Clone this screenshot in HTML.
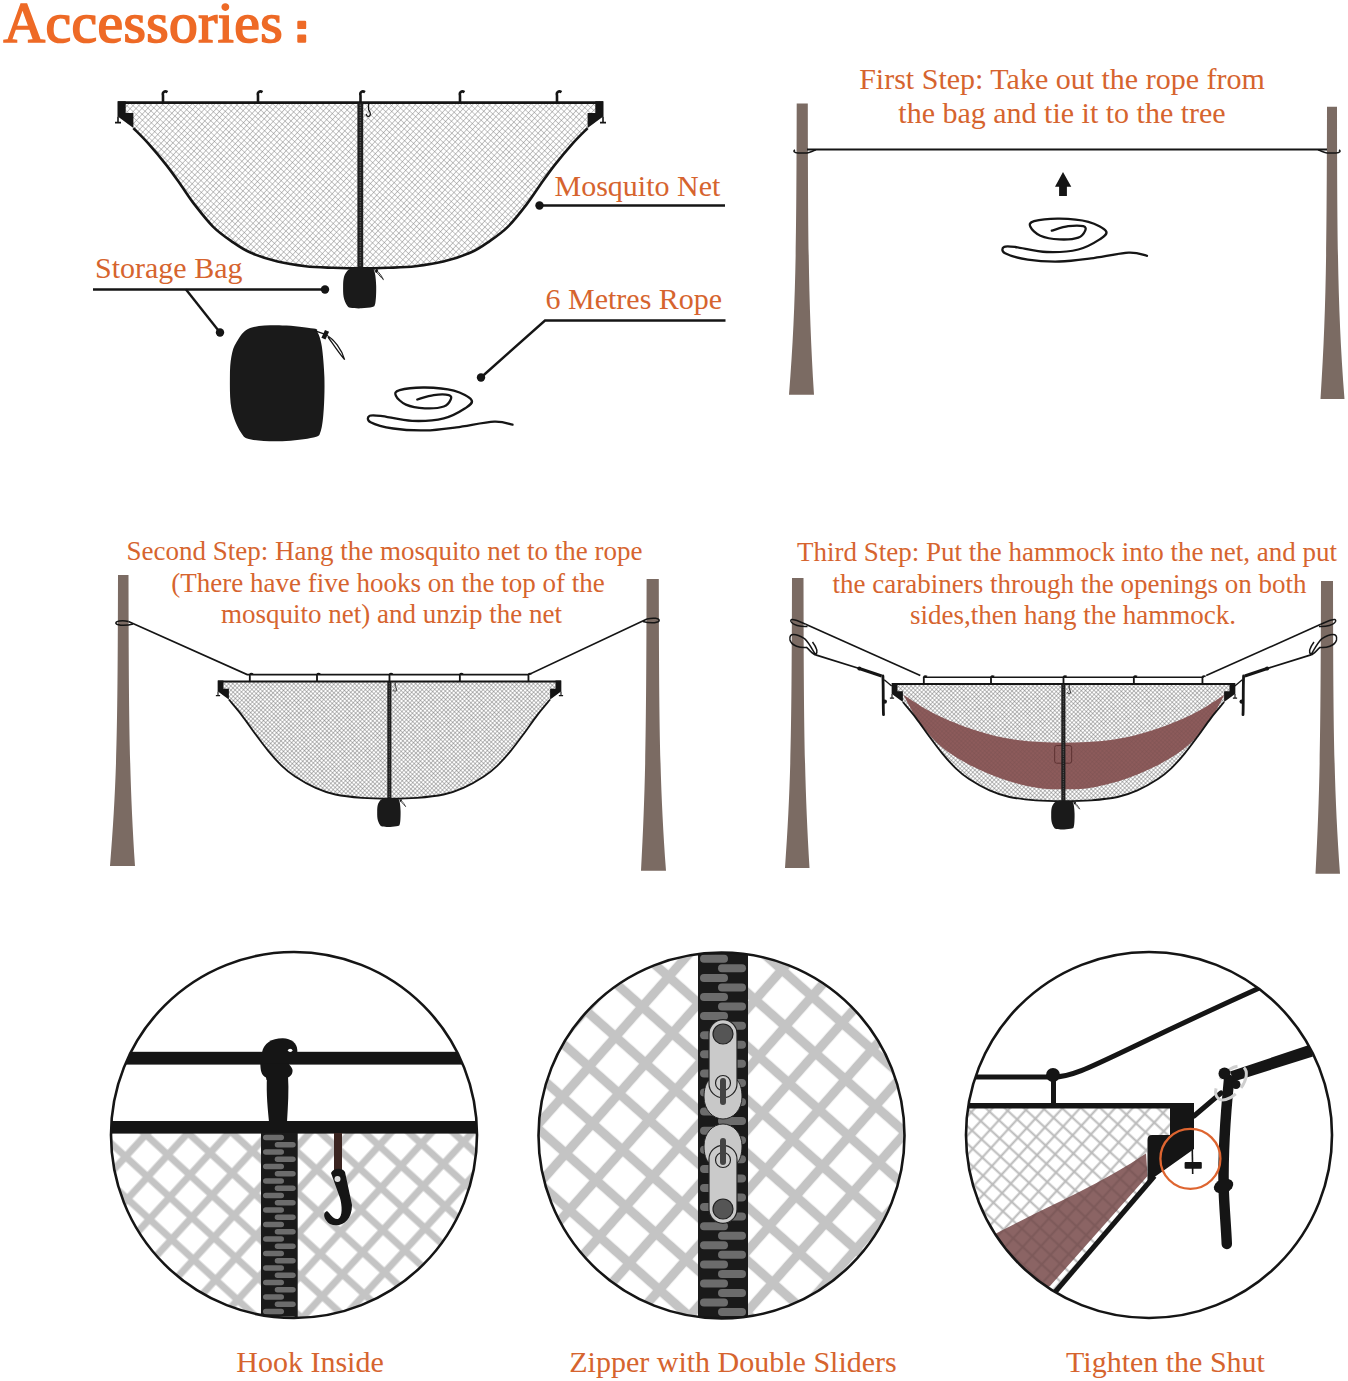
<!DOCTYPE html><html><head><meta charset="utf-8"><style>html,body{margin:0;padding:0;background:#fff;}svg{display:block;}text{font-family:"Liberation Serif",serif;}</style></head><body>
<svg width="1348" height="1381" viewBox="0 0 1348 1381">
<defs>
<pattern id="mesh" width="4.2" height="4.2" patternUnits="userSpaceOnUse" patternTransform="rotate(43)"><rect width="4.2" height="4.2" fill="#fff"/><path d="M0,0 H4.2 M0,0 V4.2" stroke="#858585" stroke-width="0.95"/></pattern>
<pattern id="meshB" width="4.2" height="4.2" patternUnits="userSpaceOnUse" patternTransform="rotate(43)"><rect width="4.2" height="4.2" fill="#fff"/><path d="M0,0 H4.2 M0,0 V4.2" stroke="#6a6a6a" stroke-width="1.25"/></pattern>
<pattern id="meshov" width="4.2" height="4.2" patternUnits="userSpaceOnUse" patternTransform="rotate(43)"><path d="M0,0 H4.2 M0,0 V4.2" stroke="#5a4040" stroke-width="0.95"/></pattern>
<pattern id="m1" width="29.9" height="29.9" patternUnits="userSpaceOnUse" patternTransform="translate(125.6,1156.7) rotate(42.5) translate(-14.95,-14.95)"><rect width="29.9" height="29.9" fill="#fff"/><path d="M0,14.95 H29.9 M14.95,0 V29.9" stroke="#c4c4c4" stroke-width="7.0"/></pattern>
<pattern id="m2" width="40.1" height="40.1" patternUnits="userSpaceOnUse" patternTransform="translate(619,1093.4) rotate(41.5) translate(-20.05,-20.05)"><rect width="40.1" height="40.1" fill="#fff"/><path d="M0,20.05 H40.1 M20.05,0 V40.1" stroke="#c4c4c4" stroke-width="9.2"/></pattern>
<pattern id="m3" width="12.9" height="12.9" patternUnits="userSpaceOnUse" patternTransform="translate(980.7,1121) rotate(42.5) translate(-6.45,-6.45)"><rect width="12.9" height="12.9" fill="#fff"/><path d="M0,6.45 H12.9 M6.45,0 V12.9" stroke="#b9b9b9" stroke-width="2.0"/></pattern>
<pattern id="m3o" width="12.9" height="12.9" patternUnits="userSpaceOnUse" patternTransform="translate(980.7,1121) rotate(42.5) translate(-6.45,-6.45)"><path d="M0,6.45 H12.9 M6.45,0 V12.9" stroke="#6e4e4e" stroke-width="2.0"/></pattern>
</defs>
<text x="3.5" y="42" font-size="57.5" letter-spacing="0.45" fill="#ee6a26" stroke="#ee6a26" stroke-width="1.7">Accessories</text>
<rect x="297.3" y="20.8" width="8.9" height="8.3" rx="1.2" fill="#ee6a26"/><rect x="297.3" y="34.5" width="8.9" height="8.3" rx="1.2" fill="#ee6a26"/>
<g transform="translate(118,102.6)"><path d="M0,0 H485 V13.7 L469.6,25.5  C467.2,28.0 460.7,34.1 455.2,40.3 C449.7,46.5 442.2,55.4 436.6,62.5 C431.0,69.6 426.4,76.4 421.8,82.9 C417.2,89.4 414.1,94.7 408.8,101.5 C403.6,108.3 396.5,117.5 390.3,123.7 C384.1,129.9 377.9,134.2 371.7,138.5 C365.5,142.8 360.9,146.3 353.2,149.7 C345.5,153.1 334.7,156.7 325.4,159.0 C316.1,161.3 306.7,162.6 297.5,163.6 C288.3,164.6 279.2,164.8 270.0,165.2 C260.8,165.5 251.7,165.7 242.5,165.7 C233.3,165.7 224.2,165.5 215.0,165.2 C205.8,164.8 196.7,164.6 187.5,163.6 C178.3,162.6 168.9,161.3 159.6,159.0 C150.3,156.7 139.5,153.1 131.8,149.7 C124.1,146.3 119.5,142.8 113.3,138.5 C107.1,134.2 100.9,129.9 94.7,123.7 C88.5,117.5 81.5,108.3 76.2,101.5 C71.0,94.7 67.8,89.4 63.2,82.9 C58.6,76.4 54.0,69.6 48.4,62.5 C42.8,55.4 35.3,46.5 29.8,40.3 C24.3,34.1 17.8,28.0 15.4,25.5 L0,13.7 Z" fill="url(#mesh)"/><path d="M15.4,25.5 C17.8,28.0 24.3,34.1 29.8,40.3 C35.3,46.5 42.8,55.4 48.4,62.5 C54.0,69.6 58.6,76.4 63.2,82.9 C67.8,89.4 71.0,94.7 76.2,101.5 C81.5,108.3 88.5,117.5 94.7,123.7 C100.9,129.9 107.1,134.2 113.3,138.5 C119.5,142.8 124.1,146.3 131.8,149.7 C139.5,153.1 150.3,156.7 159.6,159.0 C168.9,161.3 178.3,162.6 187.5,163.6 C196.7,164.6 205.8,164.8 215.0,165.2 C224.2,165.5 233.3,165.7 242.5,165.7 C251.7,165.7 260.8,165.5 270.0,165.2 C279.2,164.8 288.3,164.6 297.5,163.6 C306.7,162.6 316.1,161.3 325.4,159.0 C334.7,156.7 345.5,153.1 353.2,149.7 C360.9,146.3 365.5,142.8 371.7,138.5 C377.9,134.2 384.1,129.9 390.3,123.7 C396.5,117.5 403.6,108.3 408.8,101.5 C414.1,94.7 417.2,89.4 421.8,82.9 C426.4,76.4 431.0,69.6 436.6,62.5 C442.2,55.4 449.7,46.5 455.2,40.3 C460.7,34.1 467.2,28.0 469.6,25.5" fill="none" stroke="#151515" stroke-width="2.6"/><line x1="0" y1="0" x2="485" y2="0" stroke="#151515" stroke-width="2.8"/><path d="M-0.5,-1.4 H7.7 V10.4 H15.4 V25.5 L-0.5,13.7 Z" fill="#151515"/><path d="M485.5,-1.4 H477.3 V10.4 H469.6 V25.5 L485.5,13.7 Z" fill="#151515"/><path d="M0,14 V20.5 M-3,20 H3 M485,14 V20.5 M482,20 H488" stroke="#151515" stroke-width="1.6"/><rect x="239.4" y="0" width="5.8" height="166" fill="#1e1e1e"/><line x1="242.3" y1="2" x2="242.3" y2="164" stroke="#555" stroke-width="1.6" stroke-dasharray="1.2 1.3"/><path d="M45,0 V-7 C44,-11 47,-12 49.5,-10.5" fill="none" stroke="#151515" stroke-width="2.6"/><path d="M140,0 V-7 C139,-11 142,-12 144.5,-10.5" fill="none" stroke="#151515" stroke-width="2.6"/><path d="M242.5,0 V-7 C241.5,-11 244.5,-12 247.0,-10.5" fill="none" stroke="#151515" stroke-width="2.6"/><path d="M342,0 V-7 C341,-11 344,-12 346.5,-10.5" fill="none" stroke="#151515" stroke-width="2.6"/><path d="M439,0 V-7 C438,-11 441,-12 443.5,-10.5" fill="none" stroke="#151515" stroke-width="2.6"/><path d="M250.5,1.2 L250.6,7.1 C251.5,8.5 252.6,10 252.4,11.5 C252,13.8 250.5,14.2 249.5,13.6 C248.8,13.2 248.3,12.4 248.3,11.5" fill="none" stroke="#151515" stroke-width="1.3"/><path transform="translate(225.1,165.2) scale(0.35) translate(-229.9,-325.4)" d="M250.1,328.0 C257.7,325.2 271.7,325.3 282.3,325.4 C292.9,325.5 307.6,327.4 313.5,328.5 C319.4,329.6 316.1,329.1 317.5,332.0 C318.9,334.9 320.7,338.6 321.8,346.2 C322.9,353.8 324.1,366.9 324.4,377.3 C324.7,387.7 324.4,399.5 323.8,408.5 C323.2,417.5 322.4,426.5 320.7,431.3 C319.0,436.1 319.9,435.9 313.5,437.5 C307.1,439.1 292.7,440.8 282.3,441.2 C271.9,441.6 258.1,441.1 251.2,439.6 C244.3,438.1 244.1,437.5 240.8,432.3 C237.5,427.1 233.2,417.7 231.4,408.5 C229.6,399.3 229.9,386.0 229.9,377.3 C229.9,368.6 230.3,362.4 231.4,356.5 C232.5,350.6 233.5,346.8 236.6,342.0 C239.7,337.2 242.5,330.8 250.1,328.0 Z" fill="#1a1a1a"/><path d="M255.3,167 L259,168.2 C262,171 264,174 265.4,177 C263,175 261,172 258.5,169.5" stroke="#151515" stroke-width="0.9" fill="none"/><rect x="257.5" y="166.5" width="2.2" height="3.5" fill="#151515" transform="rotate(25 258.6 168.2)"/></g>
<text x="554.5" y="196" font-size="30" font-weight="normal" text-anchor="start" fill="#d6642e">Mosquito Net</text>
<line x1="540" y1="205.5" x2="725" y2="205.5" stroke="#151515" stroke-width="2.4"/><circle cx="539.5" cy="205.5" r="4.2" fill="#151515"/>
<text x="95" y="278" font-size="30" font-weight="normal" text-anchor="start" fill="#d6642e">Storage Bag</text>
<line x1="93" y1="289.5" x2="325" y2="289.5" stroke="#151515" stroke-width="2.4"/><circle cx="325" cy="289.5" r="4.2" fill="#151515"/>
<line x1="186" y1="289.5" x2="220" y2="332.5" stroke="#151515" stroke-width="2.4"/><circle cx="220" cy="332.5" r="4.2" fill="#151515"/>
<text x="545.5" y="309" font-size="30" font-weight="normal" text-anchor="start" fill="#d6642e">6 Metres Rope</text>
<polyline points="725.5,320.5 545,320.5 481,377.5" fill="none" stroke="#151515" stroke-width="2.4"/><circle cx="481" cy="377.5" r="4.2" fill="#151515"/>
<path d="M250.1,328.0 C257.7,325.2 271.7,325.3 282.3,325.4 C292.9,325.5 307.6,327.4 313.5,328.5 C319.4,329.6 316.1,329.1 317.5,332.0 C318.9,334.9 320.7,338.6 321.8,346.2 C322.9,353.8 324.1,366.9 324.4,377.3 C324.7,387.7 324.4,399.5 323.8,408.5 C323.2,417.5 322.4,426.5 320.7,431.3 C319.0,436.1 319.9,435.9 313.5,437.5 C307.1,439.1 292.7,440.8 282.3,441.2 C271.9,441.6 258.1,441.1 251.2,439.6 C244.3,438.1 244.1,437.5 240.8,432.3 C237.5,427.1 233.2,417.7 231.4,408.5 C229.6,399.3 229.9,386.0 229.9,377.3 C229.9,368.6 230.3,362.4 231.4,356.5 C232.5,350.6 233.5,346.8 236.6,342.0 C239.7,337.2 242.5,330.8 250.1,328.0 Z" fill="#1a1a1a"/>
<path d="M314.5,330.6 L326,334.7 C334,339 342,350 344.6,359.7 C338,352 333,344 328,337" fill="none" stroke="#151515" stroke-width="1.3"/><rect x="323" y="330.5" width="4.5" height="8.5" fill="#151515" transform="rotate(25 325.3 334.7)"/>
<path transform="translate(367,384.4)" d="M50.3,15.1 C53.0,14.4 61.5,11.4 66.7,10.7 C72.0,10.0 79.0,10.0 81.8,10.7 C84.6,11.4 84.5,13.2 83.7,15.1 C82.9,17.0 81.1,20.6 76.8,22.1 C72.5,23.6 64.2,24.2 57.9,23.9 C51.6,23.6 43.7,22.3 38.9,20.2 C34.1,18.1 29.9,13.7 28.9,11.3 C27.8,8.9 27.8,7.1 32.6,5.7 C37.4,4.3 48.8,3.0 57.9,3.1 C67.0,3.2 79.1,4.2 86.9,6.3 C94.7,8.4 102.6,12.8 104.5,15.7 C106.4,18.6 102.8,20.8 98.2,23.9 C93.6,26.9 85.6,31.9 76.8,34.0 C68.0,36.1 55.7,36.9 45.2,36.5 C34.7,36.1 20.8,32.3 13.7,31.5 C6.6,30.7 4.1,30.4 2.4,31.5 C0.7,32.5 -0.4,35.7 3.6,37.8 C7.6,39.9 17.2,42.7 26.3,44.1 C35.4,45.5 47.4,46.2 57.9,46.0 C68.4,45.8 77.9,44.4 89.4,42.9 C101.0,41.4 117.9,37.6 127.2,37.2 C136.6,36.8 142.4,39.8 145.5,40.3" fill="none" stroke="#151515" stroke-width="2.3" stroke-linecap="round"/>
<text x="1062" y="88.5" font-size="30" font-weight="normal" text-anchor="middle" fill="#d6642e">First Step: Take out the rope from</text>
<text x="1062" y="123" font-size="30" font-weight="normal" text-anchor="middle" fill="#d6642e">the bag and tie it to the tree</text>
<path d="M796.7,103.4 L807.8,103.4 C808.0999999999999,249.1 808.5999999999999,307.38 814,394.8 L789,394.8 C795.9000000000001,307.38 796.4000000000001,249.1 796.7,103.4 Z" fill="#7b6b63"/>
<path d="M1327,106.7 L1337,106.7 C1337.3,252.85000000000002 1337.8,311.31 1344.5,399 L1320.5,399 C1326.2,311.31 1326.7,252.85000000000002 1327,106.7 Z" fill="#7b6b63"/>
<line x1="807" y1="149.5" x2="1327" y2="149.5" stroke="#151515" stroke-width="1.8"/>
<path d="M816,149.8 C812,151 810,152.8 807,153 L798,153 C794,152.5 793,151 795,150 M1318,149.8 C1322,151 1324,152.8 1327,153 L1336,153 C1340,152.5 1341,151 1339,150" fill="none" stroke="#151515" stroke-width="1.5"/>
<path d="M1063,172 L1071.3,186.7 H1066.9 V196 H1059.1 V186.7 H1055 Z" fill="#151515"/>
<path transform="translate(1001.5,215.5)" d="M50.3,15.1 C53.0,14.4 61.5,11.4 66.7,10.7 C72.0,10.0 79.0,10.0 81.8,10.7 C84.6,11.4 84.5,13.2 83.7,15.1 C82.9,17.0 81.1,20.6 76.8,22.1 C72.5,23.6 64.2,24.2 57.9,23.9 C51.6,23.6 43.7,22.3 38.9,20.2 C34.1,18.1 29.9,13.7 28.9,11.3 C27.8,8.9 27.8,7.1 32.6,5.7 C37.4,4.3 48.8,3.0 57.9,3.1 C67.0,3.2 79.1,4.2 86.9,6.3 C94.7,8.4 102.6,12.8 104.5,15.7 C106.4,18.6 102.8,20.8 98.2,23.9 C93.6,26.9 85.6,31.9 76.8,34.0 C68.0,36.1 55.7,36.9 45.2,36.5 C34.7,36.1 20.8,32.3 13.7,31.5 C6.6,30.7 4.1,30.4 2.4,31.5 C0.7,32.5 -0.4,35.7 3.6,37.8 C7.6,39.9 17.2,42.7 26.3,44.1 C35.4,45.5 47.4,46.2 57.9,46.0 C68.4,45.8 77.9,44.4 89.4,42.9 C101.0,41.4 117.9,37.6 127.2,37.2 C136.6,36.8 142.4,39.8 145.5,40.3" fill="none" stroke="#151515" stroke-width="2.3" stroke-linecap="round"/>
<text x="384.5" y="560" font-size="27" font-weight="normal" text-anchor="middle" fill="#d6642e">Second Step: Hang the mosquito net to the rope</text>
<text x="388" y="591.5" font-size="27" font-weight="normal" text-anchor="middle" fill="#d6642e">(There have five hooks on the top of the</text>
<text x="391.5" y="622.5" font-size="27" font-weight="normal" text-anchor="middle" fill="#d6642e">mosquito net) and unzip the net</text>
<path d="M118,575 L128.5,575 C128.8,720.5 129.3,778.7 135,866 L110,866 C117.2,778.7 117.7,720.5 118,575 Z" fill="#7b6b63"/>
<path d="M646.6,579 L658.8,579 C659.0999999999999,724.85 659.5999999999999,783.19 666,870.7 L641,870.7 C645.8000000000001,783.19 646.3000000000001,724.85 646.6,579 Z" fill="#7b6b63"/>
<polyline points="128.5,621.4 247.2,674.6 528.5,674.6 647,619" fill="none" stroke="#151515" stroke-width="1.6"/>
<path d="M128.5,621.4 C122,620 115,621 116,623.5 C118,626 128,625.5 133,624 M647,619 C653,617.5 660,618 659,621 C657,623.5 648,623 643,621.5" fill="none" stroke="#151515" stroke-width="1.5"/>
<g transform="translate(218,681.5) scale(0.7072)"><path d="M0,0 H485 V13.7 L469.6,25.5  C466.6,29.2 457.7,39.5 451.5,47.5 C445.3,55.5 438.8,65.3 432.5,73.8 C426.2,82.3 420.0,90.8 413.7,98.4 C407.4,106.0 401.1,113.2 394.8,119.2 C388.5,125.2 384.0,129.1 376.0,134.3 C368.0,139.5 356.5,146.2 347.0,150.5 C337.5,154.8 329.9,157.5 319.0,159.8 C308.1,162.1 294.2,163.5 281.5,164.5 C268.8,165.5 255.5,165.6 242.5,165.6 C229.5,165.6 216.2,165.5 203.5,164.5 C190.8,163.5 176.9,162.1 166.0,159.8 C155.1,157.5 147.5,154.8 138.0,150.5 C128.5,146.2 117.0,139.5 109.0,134.3 C101.0,129.1 96.5,125.2 90.2,119.2 C83.9,113.2 77.6,106.0 71.3,98.4 C65.0,90.8 58.8,82.3 52.5,73.8 C46.2,65.3 39.7,55.5 33.5,47.5 C27.3,39.5 18.4,29.2 15.4,25.5 L0,13.7 Z" fill="url(#meshB)"/><path d="M15.4,25.5 C18.4,29.2 27.3,39.5 33.5,47.5 C39.7,55.5 46.2,65.3 52.5,73.8 C58.8,82.3 65.0,90.8 71.3,98.4 C77.6,106.0 83.9,113.2 90.2,119.2 C96.5,125.2 101.0,129.1 109.0,134.3 C117.0,139.5 128.5,146.2 138.0,150.5 C147.5,154.8 155.1,157.5 166.0,159.8 C176.9,162.1 190.8,163.5 203.5,164.5 C216.2,165.5 229.5,165.6 242.5,165.6 C255.5,165.6 268.8,165.5 281.5,164.5 C294.2,163.5 308.1,162.1 319.0,159.8 C329.9,157.5 337.5,154.8 347.0,150.5 C356.5,146.2 368.0,139.5 376.0,134.3 C384.0,129.1 388.5,125.2 394.8,119.2 C401.1,113.2 407.4,106.0 413.7,98.4 C420.0,90.8 426.2,82.3 432.5,73.8 C438.8,65.3 445.3,55.5 451.5,47.5 C457.7,39.5 466.6,29.2 469.6,25.5" fill="none" stroke="#151515" stroke-width="2.6"/><line x1="0" y1="0" x2="485" y2="0" stroke="#151515" stroke-width="2.8"/><path d="M-0.5,-1.4 H7.7 V10.4 H15.4 V25.5 L-0.5,13.7 Z" fill="#151515"/><path d="M485.5,-1.4 H477.3 V10.4 H469.6 V25.5 L485.5,13.7 Z" fill="#151515"/><path d="M0,14 V20.5 M-3,20 H3 M485,14 V20.5 M482,20 H488" stroke="#151515" stroke-width="1.6"/><rect x="239.4" y="0" width="5.8" height="166" fill="#1e1e1e"/><line x1="242.3" y1="2" x2="242.3" y2="164" stroke="#555" stroke-width="1.6" stroke-dasharray="1.2 1.3"/><path d="M45,0 V-7 C44,-11 47,-12 49.5,-10.5" fill="none" stroke="#151515" stroke-width="2.6"/><path d="M140,0 V-7 C139,-11 142,-12 144.5,-10.5" fill="none" stroke="#151515" stroke-width="2.6"/><path d="M242.5,0 V-7 C241.5,-11 244.5,-12 247.0,-10.5" fill="none" stroke="#151515" stroke-width="2.6"/><path d="M342,0 V-7 C341,-11 344,-12 346.5,-10.5" fill="none" stroke="#151515" stroke-width="2.6"/><path d="M439,0 V-7 C438,-11 441,-12 443.5,-10.5" fill="none" stroke="#151515" stroke-width="2.6"/><path d="M250.5,1.2 L250.6,7.1 C251.5,8.5 252.6,10 252.4,11.5 C252,13.8 250.5,14.2 249.5,13.6 C248.8,13.2 248.3,12.4 248.3,11.5" fill="none" stroke="#151515" stroke-width="1.3"/><path transform="translate(225.1,165.2) scale(0.35) translate(-229.9,-325.4)" d="M250.1,328.0 C257.7,325.2 271.7,325.3 282.3,325.4 C292.9,325.5 307.6,327.4 313.5,328.5 C319.4,329.6 316.1,329.1 317.5,332.0 C318.9,334.9 320.7,338.6 321.8,346.2 C322.9,353.8 324.1,366.9 324.4,377.3 C324.7,387.7 324.4,399.5 323.8,408.5 C323.2,417.5 322.4,426.5 320.7,431.3 C319.0,436.1 319.9,435.9 313.5,437.5 C307.1,439.1 292.7,440.8 282.3,441.2 C271.9,441.6 258.1,441.1 251.2,439.6 C244.3,438.1 244.1,437.5 240.8,432.3 C237.5,427.1 233.2,417.7 231.4,408.5 C229.6,399.3 229.9,386.0 229.9,377.3 C229.9,368.6 230.3,362.4 231.4,356.5 C232.5,350.6 233.5,346.8 236.6,342.0 C239.7,337.2 242.5,330.8 250.1,328.0 Z" fill="#1a1a1a"/><path d="M255.3,167 L259,168.2 C262,171 264,174 265.4,177 C263,175 261,172 258.5,169.5" stroke="#151515" stroke-width="0.9" fill="none"/><rect x="257.5" y="166.5" width="2.2" height="3.5" fill="#151515" transform="rotate(25 258.6 168.2)"/></g>
<text x="1067" y="561" font-size="27" font-weight="normal" text-anchor="middle" fill="#d6642e">Third Step: Put the hammock into the net, and put</text>
<text x="1069.5" y="593" font-size="27" font-weight="normal" text-anchor="middle" fill="#d6642e">the carabiners through the openings on both</text>
<text x="1073" y="624" font-size="27" font-weight="normal" text-anchor="middle" fill="#d6642e">sides,then hang the hammock.</text>
<path d="M792,578 L803.5,578 C803.8,723.0 804.3,781.0 809.5,868 L785,868 C791.2,781.0 791.7,723.0 792,578 Z" fill="#7b6b63"/>
<path d="M1321,581 L1333,581 C1333.3,727.4 1333.8,785.9599999999999 1340,873.8 L1315.5,873.8 C1320.2,785.9599999999999 1320.7,727.4 1321,581 Z" fill="#7b6b63"/>
<g transform="translate(892,684) scale(0.7072)"><path d="M0,0 H485 V13.7 L469.6,25.5  C466.6,29.2 457.7,39.5 451.5,47.5 C445.3,55.5 438.8,65.3 432.5,73.8 C426.2,82.3 420.0,90.8 413.7,98.4 C407.4,106.0 401.1,113.2 394.8,119.2 C388.5,125.2 384.0,129.1 376.0,134.3 C368.0,139.5 356.5,146.2 347.0,150.5 C337.5,154.8 329.9,157.5 319.0,159.8 C308.1,162.1 294.2,163.5 281.5,164.5 C268.8,165.5 255.5,165.6 242.5,165.6 C229.5,165.6 216.2,165.5 203.5,164.5 C190.8,163.5 176.9,162.1 166.0,159.8 C155.1,157.5 147.5,154.8 138.0,150.5 C128.5,146.2 117.0,139.5 109.0,134.3 C101.0,129.1 96.5,125.2 90.2,119.2 C83.9,113.2 77.6,106.0 71.3,98.4 C65.0,90.8 58.8,82.3 52.5,73.8 C46.2,65.3 39.7,55.5 33.5,47.5 C27.3,39.5 18.4,29.2 15.4,25.5 L0,13.7 Z" fill="url(#meshB)"/><clipPath id="netclip"><path d="M0,0 H485 V13.7 L469.6,25.5  C466.6,29.2 457.7,39.5 451.5,47.5 C445.3,55.5 438.8,65.3 432.5,73.8 C426.2,82.3 420.0,90.8 413.7,98.4 C407.4,106.0 401.1,113.2 394.8,119.2 C388.5,125.2 384.0,129.1 376.0,134.3 C368.0,139.5 356.5,146.2 347.0,150.5 C337.5,154.8 329.9,157.5 319.0,159.8 C308.1,162.1 294.2,163.5 281.5,164.5 C268.8,165.5 255.5,165.6 242.5,165.6 C229.5,165.6 216.2,165.5 203.5,164.5 C190.8,163.5 176.9,162.1 166.0,159.8 C155.1,157.5 147.5,154.8 138.0,150.5 C128.5,146.2 117.0,139.5 109.0,134.3 C101.0,129.1 96.5,125.2 90.2,119.2 C83.9,113.2 77.6,106.0 71.3,98.4 C65.0,90.8 58.8,82.3 52.5,73.8 C46.2,65.3 39.7,55.5 33.5,47.5 C27.3,39.5 18.4,29.2 15.4,25.5 L0,13.7 Z"/></clipPath><g clip-path="url(#netclip)"><path d="M16.0,15.1 C23.4,19.6 43.6,33.9 60.7,42.3 C77.8,50.7 99.4,59.4 118.8,65.6 C138.2,71.8 156.3,76.3 177.0,79.2 C197.7,82.1 221.1,83.0 243.1,83.0 C265.1,83.0 288.5,82.1 309.2,79.2 C329.9,76.3 348.0,71.8 367.4,65.6 C386.8,59.4 408.4,50.7 425.5,42.3 C442.6,33.9 462.8,19.6 470.2,15.1 C466.0,22.2 455.6,44.2 444.9,57.8 C434.2,71.4 422.4,84.9 406.2,96.6 C390.0,108.2 367.3,119.6 347.9,127.7 C328.5,135.8 307.2,141.6 289.7,145.2 C272.2,148.8 258.6,149.0 243.1,149.0 C227.6,149.0 214.0,148.8 196.5,145.2 C179.0,141.6 157.7,135.8 138.3,127.7 C118.9,119.6 96.2,108.2 80.0,96.6 C63.8,84.9 52.0,71.4 41.3,57.8 C30.6,44.2 20.2,22.2 16.0,15.1 Z" fill="#8d5b5b"/><path d="M16.0,15.1 C23.4,19.6 43.6,33.9 60.7,42.3 C77.8,50.7 99.4,59.4 118.8,65.6 C138.2,71.8 156.3,76.3 177.0,79.2 C197.7,82.1 221.1,83.0 243.1,83.0 C265.1,83.0 288.5,82.1 309.2,79.2 C329.9,76.3 348.0,71.8 367.4,65.6 C386.8,59.4 408.4,50.7 425.5,42.3 C442.6,33.9 462.8,19.6 470.2,15.1 C466.0,22.2 455.6,44.2 444.9,57.8 C434.2,71.4 422.4,84.9 406.2,96.6 C390.0,108.2 367.3,119.6 347.9,127.7 C328.5,135.8 307.2,141.6 289.7,145.2 C272.2,148.8 258.6,149.0 243.1,149.0 C227.6,149.0 214.0,148.8 196.5,145.2 C179.0,141.6 157.7,135.8 138.3,127.7 C118.9,119.6 96.2,108.2 80.0,96.6 C63.8,84.9 52.0,71.4 41.3,57.8 C30.6,44.2 20.2,22.2 16.0,15.1 Z" fill="url(#meshov)" opacity="0.45"/><rect x="230" y="87" width="24" height="25" rx="3" fill="none" stroke="#5a2f2f" stroke-width="1.3"/></g><path d="M15.4,25.5 C18.4,29.2 27.3,39.5 33.5,47.5 C39.7,55.5 46.2,65.3 52.5,73.8 C58.8,82.3 65.0,90.8 71.3,98.4 C77.6,106.0 83.9,113.2 90.2,119.2 C96.5,125.2 101.0,129.1 109.0,134.3 C117.0,139.5 128.5,146.2 138.0,150.5 C147.5,154.8 155.1,157.5 166.0,159.8 C176.9,162.1 190.8,163.5 203.5,164.5 C216.2,165.5 229.5,165.6 242.5,165.6 C255.5,165.6 268.8,165.5 281.5,164.5 C294.2,163.5 308.1,162.1 319.0,159.8 C329.9,157.5 337.5,154.8 347.0,150.5 C356.5,146.2 368.0,139.5 376.0,134.3 C384.0,129.1 388.5,125.2 394.8,119.2 C401.1,113.2 407.4,106.0 413.7,98.4 C420.0,90.8 426.2,82.3 432.5,73.8 C438.8,65.3 445.3,55.5 451.5,47.5 C457.7,39.5 466.6,29.2 469.6,25.5" fill="none" stroke="#151515" stroke-width="2.6"/><line x1="0" y1="0" x2="485" y2="0" stroke="#151515" stroke-width="2.8"/><path d="M-0.5,-1.4 H7.7 V10.4 H15.4 V25.5 L-0.5,13.7 Z" fill="#151515"/><path d="M485.5,-1.4 H477.3 V10.4 H469.6 V25.5 L485.5,13.7 Z" fill="#151515"/><path d="M0,14 V20.5 M-3,20 H3 M485,14 V20.5 M482,20 H488" stroke="#151515" stroke-width="1.6"/><rect x="239.4" y="0" width="5.8" height="166" fill="#1e1e1e"/><line x1="242.3" y1="2" x2="242.3" y2="164" stroke="#555" stroke-width="1.6" stroke-dasharray="1.2 1.3"/><path d="M45,0 V-7 C44,-11 47,-12 49.5,-10.5" fill="none" stroke="#151515" stroke-width="2.6"/><path d="M140,0 V-7 C139,-11 142,-12 144.5,-10.5" fill="none" stroke="#151515" stroke-width="2.6"/><path d="M242.5,0 V-7 C241.5,-11 244.5,-12 247.0,-10.5" fill="none" stroke="#151515" stroke-width="2.6"/><path d="M342,0 V-7 C341,-11 344,-12 346.5,-10.5" fill="none" stroke="#151515" stroke-width="2.6"/><path d="M439,0 V-7 C438,-11 441,-12 443.5,-10.5" fill="none" stroke="#151515" stroke-width="2.6"/><path d="M250.5,1.2 L250.6,7.1 C251.5,8.5 252.6,10 252.4,11.5 C252,13.8 250.5,14.2 249.5,13.6 C248.8,13.2 248.3,12.4 248.3,11.5" fill="none" stroke="#151515" stroke-width="1.3"/><path transform="translate(225.1,165.2) scale(0.35) translate(-229.9,-325.4)" d="M250.1,328.0 C257.7,325.2 271.7,325.3 282.3,325.4 C292.9,325.5 307.6,327.4 313.5,328.5 C319.4,329.6 316.1,329.1 317.5,332.0 C318.9,334.9 320.7,338.6 321.8,346.2 C322.9,353.8 324.1,366.9 324.4,377.3 C324.7,387.7 324.4,399.5 323.8,408.5 C323.2,417.5 322.4,426.5 320.7,431.3 C319.0,436.1 319.9,435.9 313.5,437.5 C307.1,439.1 292.7,440.8 282.3,441.2 C271.9,441.6 258.1,441.1 251.2,439.6 C244.3,438.1 244.1,437.5 240.8,432.3 C237.5,427.1 233.2,417.7 231.4,408.5 C229.6,399.3 229.9,386.0 229.9,377.3 C229.9,368.6 230.3,362.4 231.4,356.5 C232.5,350.6 233.5,346.8 236.6,342.0 C239.7,337.2 242.5,330.8 250.1,328.0 Z" fill="#1a1a1a"/><path d="M255.3,167 L259,168.2 C262,171 264,174 265.4,177 C263,175 261,172 258.5,169.5" stroke="#151515" stroke-width="0.9" fill="none"/><rect x="257.5" y="166.5" width="2.2" height="3.5" fill="#151515" transform="rotate(25 258.6 168.2)"/></g>
<line x1="924" y1="677.3" x2="1203.7" y2="677.3" stroke="#151515" stroke-width="1.6"/>
<path d="M1320.8,624.3 L1206.2,675.6" fill="none" stroke="#151515" stroke-width="1.6"/><path d="M1320.8,624.3 C1328,621 1337,617 1335.5,621.5 C1334,625 1326,627 1319,626.5" fill="none" stroke="#151515" stroke-width="1.5"/><path d="M1310.9,654.8 C1315,648 1318,642 1322,638.6 C1330,634 1338,632 1336.5,640 C1335,646 1326,648 1320,647.4 C1316,651 1313,655 1310.9,654.8 C1308,652 1311,646 1314,642" fill="none" stroke="#151515" stroke-width="1.5"/><path d="M1310.9,654.8 L1267.2,668.5" stroke="#151515" stroke-width="1.8"/><path d="M1267.2,668.5 L1244.8,676" stroke="#151515" stroke-width="3.2"/><circle cx="1267.2" cy="668.5" r="2" fill="#151515"/><path d="M1243.6,676 C1243,690 1243.5,705 1243,714.7" fill="none" stroke="#151515" stroke-width="2.8" stroke-linecap="round"/><circle cx="1241.7" cy="701.6" r="2.2" fill="#151515"/><path d="M1234.8,686 L1242.3,679.8" stroke="#151515" stroke-width="1.4"/>
<g transform="translate(2126.5,0) scale(-1,1)"><path d="M1320.8,624.3 L1206.2,675.6" fill="none" stroke="#151515" stroke-width="1.6"/><path d="M1320.8,624.3 C1328,621 1337,617 1335.5,621.5 C1334,625 1326,627 1319,626.5" fill="none" stroke="#151515" stroke-width="1.5"/><path d="M1310.9,654.8 C1315,648 1318,642 1322,638.6 C1330,634 1338,632 1336.5,640 C1335,646 1326,648 1320,647.4 C1316,651 1313,655 1310.9,654.8 C1308,652 1311,646 1314,642" fill="none" stroke="#151515" stroke-width="1.5"/><path d="M1310.9,654.8 L1267.2,668.5" stroke="#151515" stroke-width="1.8"/><path d="M1267.2,668.5 L1244.8,676" stroke="#151515" stroke-width="3.2"/><circle cx="1267.2" cy="668.5" r="2" fill="#151515"/><path d="M1243.6,676 C1243,690 1243.5,705 1243,714.7" fill="none" stroke="#151515" stroke-width="2.8" stroke-linecap="round"/><circle cx="1241.7" cy="701.6" r="2.2" fill="#151515"/><path d="M1234.8,686 L1242.3,679.8" stroke="#151515" stroke-width="1.4"/></g>
<clipPath id="c1"><circle cx="294" cy="1135" r="183"/></clipPath><g clip-path="url(#c1)">
<rect x="100" y="1133" width="400" height="200" fill="url(#m1)"/>
<rect x="100" y="1051.8" width="400" height="12.8" fill="#151515"/>
<rect x="100" y="1121" width="400" height="12.6" fill="#151515"/>
<rect x="261" y="1133" width="36.7" height="197" fill="#1a1a1a"/>
<rect x="263" y="1134.8" width="21" height="5.5" rx="2.75" fill="#6c6c6c"/>
<rect x="274.7" y="1142.0" width="21" height="5.5" rx="2.75" fill="#6c6c6c"/>
<rect x="263" y="1149.2" width="21" height="5.5" rx="2.75" fill="#6c6c6c"/>
<rect x="274.7" y="1156.5" width="21" height="5.5" rx="2.75" fill="#6c6c6c"/>
<rect x="263" y="1163.8" width="21" height="5.5" rx="2.75" fill="#6c6c6c"/>
<rect x="274.7" y="1171.0" width="21" height="5.5" rx="2.75" fill="#6c6c6c"/>
<rect x="263" y="1178.2" width="21" height="5.5" rx="2.75" fill="#6c6c6c"/>
<rect x="274.7" y="1185.5" width="21" height="5.5" rx="2.75" fill="#6c6c6c"/>
<rect x="263" y="1192.8" width="21" height="5.5" rx="2.75" fill="#6c6c6c"/>
<rect x="274.7" y="1200.0" width="21" height="5.5" rx="2.75" fill="#6c6c6c"/>
<rect x="263" y="1207.2" width="21" height="5.5" rx="2.75" fill="#6c6c6c"/>
<rect x="274.7" y="1214.5" width="21" height="5.5" rx="2.75" fill="#6c6c6c"/>
<rect x="263" y="1221.8" width="21" height="5.5" rx="2.75" fill="#6c6c6c"/>
<rect x="274.7" y="1229.0" width="21" height="5.5" rx="2.75" fill="#6c6c6c"/>
<rect x="263" y="1236.2" width="21" height="5.5" rx="2.75" fill="#6c6c6c"/>
<rect x="274.7" y="1243.5" width="21" height="5.5" rx="2.75" fill="#6c6c6c"/>
<rect x="263" y="1250.8" width="21" height="5.5" rx="2.75" fill="#6c6c6c"/>
<rect x="274.7" y="1258.0" width="21" height="5.5" rx="2.75" fill="#6c6c6c"/>
<rect x="263" y="1265.2" width="21" height="5.5" rx="2.75" fill="#6c6c6c"/>
<rect x="274.7" y="1272.5" width="21" height="5.5" rx="2.75" fill="#6c6c6c"/>
<rect x="263" y="1279.8" width="21" height="5.5" rx="2.75" fill="#6c6c6c"/>
<rect x="274.7" y="1287.0" width="21" height="5.5" rx="2.75" fill="#6c6c6c"/>
<rect x="263" y="1294.2" width="21" height="5.5" rx="2.75" fill="#6c6c6c"/>
<rect x="274.7" y="1301.5" width="21" height="5.5" rx="2.75" fill="#6c6c6c"/>
<rect x="263" y="1308.8" width="21" height="5.5" rx="2.75" fill="#6c6c6c"/>
<rect x="274.7" y="1316.0" width="21" height="5.5" rx="2.75" fill="#6c6c6c"/>
<rect x="263" y="1323.2" width="21" height="5.5" rx="2.75" fill="#6c6c6c"/>
<rect x="274.7" y="1330.5" width="21" height="5.5" rx="2.75" fill="#6c6c6c"/>
<rect x="263" y="1337.8" width="21" height="5.5" rx="2.75" fill="#6c6c6c"/>
<rect x="274.7" y="1345.0" width="21" height="5.5" rx="2.75" fill="#6c6c6c"/>
<path d="M267,1076 C266,1095 268,1110 269,1122 L287,1122 C288,1105 289,1090 288,1076 Z" fill="#151515"/>
<path d="M262,1052.5 C263.5,1043 272,1038 283,1038.2 C291,1038.4 297,1043 297.3,1050 L297.3,1053 L262,1053 Z" fill="#151515"/><ellipse cx="290.2" cy="1050.3" rx="2.2" ry="1.6" fill="#fff"/>
<path d="M260.3,1063.5 C260.5,1070 261,1075 266,1077.5 L266.5,1080 L287,1080 L288,1077.5 C292,1076 293.5,1071 292,1068.5 C291,1066.5 289.5,1065 288.5,1063.5 Z" fill="#151515"/>
<rect x="334" y="1133" width="8" height="47" fill="#3a2420"/>
<path d="M331,1173 C333,1168 342,1167 345,1172 L352,1205 C352,1222 340,1228 330,1224 C324,1220 322,1213 327,1211 C330,1213 333,1220 338,1219 C343,1217 342,1205 340,1198 Z" fill="#151515"/>
<circle cx="337.5" cy="1179" r="3" fill="#ddd"/>
</g><circle cx="294" cy="1135" r="183" fill="none" stroke="#151515" stroke-width="2.6"/>
<clipPath id="c2"><circle cx="721.5" cy="1135.5" r="183"/></clipPath><g clip-path="url(#c2)">
<rect x="530" y="940" width="400" height="400" fill="url(#m2)"/>
<rect x="698" y="945" width="50" height="385" fill="#1a1a1a"/>
<rect x="700" y="954.8" width="28" height="8" rx="4.0" fill="#6c6c6c"/>
<rect x="718" y="964.3" width="28" height="8" rx="4.0" fill="#6c6c6c"/>
<rect x="700" y="973.9" width="28" height="8" rx="4.0" fill="#6c6c6c"/>
<rect x="718" y="983.4" width="28" height="8" rx="4.0" fill="#6c6c6c"/>
<rect x="700" y="993.0" width="28" height="8" rx="4.0" fill="#6c6c6c"/>
<rect x="718" y="1002.5" width="28" height="8" rx="4.0" fill="#6c6c6c"/>
<rect x="700" y="1012.1" width="28" height="8" rx="4.0" fill="#6c6c6c"/>
<rect x="718" y="1021.7" width="28" height="8" rx="4.0" fill="#6c6c6c"/>
<rect x="700" y="1031.2" width="28" height="8" rx="4.0" fill="#6c6c6c"/>
<rect x="718" y="1040.8" width="28" height="8" rx="4.0" fill="#6c6c6c"/>
<rect x="700" y="1050.3" width="28" height="8" rx="4.0" fill="#6c6c6c"/>
<rect x="718" y="1059.8" width="28" height="8" rx="4.0" fill="#6c6c6c"/>
<rect x="700" y="1069.4" width="28" height="8" rx="4.0" fill="#6c6c6c"/>
<rect x="718" y="1078.9" width="28" height="8" rx="4.0" fill="#6c6c6c"/>
<rect x="700" y="1088.5" width="28" height="8" rx="4.0" fill="#6c6c6c"/>
<rect x="718" y="1098.0" width="28" height="8" rx="4.0" fill="#6c6c6c"/>
<rect x="700" y="1107.6" width="28" height="8" rx="4.0" fill="#6c6c6c"/>
<rect x="718" y="1117.1" width="28" height="8" rx="4.0" fill="#6c6c6c"/>
<rect x="700" y="1126.7" width="28" height="8" rx="4.0" fill="#6c6c6c"/>
<rect x="718" y="1136.2" width="28" height="8" rx="4.0" fill="#6c6c6c"/>
<rect x="700" y="1145.8" width="28" height="8" rx="4.0" fill="#6c6c6c"/>
<rect x="718" y="1155.3" width="28" height="8" rx="4.0" fill="#6c6c6c"/>
<rect x="700" y="1164.9" width="28" height="8" rx="4.0" fill="#6c6c6c"/>
<rect x="718" y="1174.4" width="28" height="8" rx="4.0" fill="#6c6c6c"/>
<rect x="700" y="1184.0" width="28" height="8" rx="4.0" fill="#6c6c6c"/>
<rect x="718" y="1193.5" width="28" height="8" rx="4.0" fill="#6c6c6c"/>
<rect x="700" y="1203.1" width="28" height="8" rx="4.0" fill="#6c6c6c"/>
<rect x="718" y="1212.6" width="28" height="8" rx="4.0" fill="#6c6c6c"/>
<rect x="700" y="1222.2" width="28" height="8" rx="4.0" fill="#6c6c6c"/>
<rect x="718" y="1231.7" width="28" height="8" rx="4.0" fill="#6c6c6c"/>
<rect x="700" y="1241.3" width="28" height="8" rx="4.0" fill="#6c6c6c"/>
<rect x="718" y="1250.8" width="28" height="8" rx="4.0" fill="#6c6c6c"/>
<rect x="700" y="1260.4" width="28" height="8" rx="4.0" fill="#6c6c6c"/>
<rect x="718" y="1269.9" width="28" height="8" rx="4.0" fill="#6c6c6c"/>
<rect x="700" y="1279.5" width="28" height="8" rx="4.0" fill="#6c6c6c"/>
<rect x="718" y="1289.0" width="28" height="8" rx="4.0" fill="#6c6c6c"/>
<rect x="700" y="1298.6" width="28" height="8" rx="4.0" fill="#6c6c6c"/>
<rect x="718" y="1308.1" width="28" height="8" rx="4.0" fill="#6c6c6c"/>
<rect x="700" y="1317.7" width="28" height="8" rx="4.0" fill="#6c6c6c"/>
<rect x="718" y="1327.2" width="28" height="8" rx="4.0" fill="#6c6c6c"/>
<rect x="700" y="1336.8" width="28" height="8" rx="4.0" fill="#6c6c6c"/>
<rect x="718" y="1346.3" width="28" height="8" rx="4.0" fill="#6c6c6c"/>
<g>
<path d="M704,1097 C704,1080 712,1075 723,1075 C734,1075 742,1080 742,1097 C742,1110 733,1119 723,1119 C713,1119 704,1110 704,1097 Z" fill="#c8c8c8" stroke="#222" stroke-width="1"/>
<rect x="709" y="1019.7" width="28" height="78" rx="14" fill="#cacaca" stroke="#222" stroke-width="1.2"/>
<circle cx="723" cy="1034" r="10" fill="#555" stroke="#222" stroke-width="1.2"/>
<circle cx="723" cy="1083" r="7.5" fill="none" stroke="#222" stroke-width="1.2"/>
<rect x="720" y="1078" width="6" height="27" rx="3" fill="#444"/>
</g>
<g transform="translate(0,2243) scale(1,-1)">
<path d="M704,1097 C704,1080 712,1075 723,1075 C734,1075 742,1080 742,1097 C742,1110 733,1119 723,1119 C713,1119 704,1110 704,1097 Z" fill="#c8c8c8" stroke="#222" stroke-width="1"/>
<rect x="709" y="1019.7" width="28" height="78" rx="14" fill="#cacaca" stroke="#222" stroke-width="1.2"/>
<circle cx="723" cy="1034" r="10" fill="#555" stroke="#222" stroke-width="1.2"/>
<circle cx="723" cy="1083" r="7.5" fill="none" stroke="#222" stroke-width="1.2"/>
<rect x="720" y="1078" width="6" height="27" rx="3" fill="#444"/>
</g>
</g><circle cx="721.5" cy="1135.5" r="183" fill="none" stroke="#151515" stroke-width="2.6"/>
<clipPath id="c3"><circle cx="1149" cy="1135" r="183"/></clipPath><g clip-path="url(#c3)">
<path d="M960,1108 H1170 V1140 L1147.5,1140 V1181.8 L1057,1291.7 L960,1291.7 Z" fill="url(#m3)"/>
<path d="M1146,1153.6 C1100,1185 1040,1210 998,1232.5 L960,1250 V1330 L1050,1286 L1147.5,1176 Z" fill="#8b6464"/>
<path d="M1146,1153.6 C1100,1185 1040,1210 998,1232.5 L960,1250 V1330 L1050,1286 L1147.5,1176 Z" fill="url(#m3o)" opacity="0.5"/>
<line x1="1154.5" y1="1176" x2="1050" y2="1298" stroke="#151515" stroke-width="5"/>
<rect x="960" y="1103" width="234" height="5.5" fill="#151515"/>
<path d="M1170,1103 H1190 Q1194,1103 1194,1107 V1149 L1147.5,1182 V1140 Q1147.5,1135 1152,1135 H1170 Z" fill="#151515"/>
<path d="M960,1077 H1053 C1080,1077 1100,1060 1258.8,988.2" fill="none" stroke="#151515" stroke-width="5"/>
<circle cx="1053" cy="1075" r="7" fill="#151515"/><rect x="1051" y="1077" width="5" height="28" fill="#151515"/>
<line x1="1194" y1="1116" x2="1221" y2="1093" stroke="#151515" stroke-width="5" stroke-linecap="round"/>
<path d="M1230,1071.5 L1309,1045 L1313,1056.5 L1234,1081.5 Z" fill="#151515"/>
<path d="M1229,1080 C1226,1110 1223,1150 1223.6,1186 C1224,1205 1226,1225 1226.8,1244" fill="none" stroke="#151515" stroke-width="10.5" stroke-linecap="round"/>
<ellipse cx="1223.6" cy="1186" rx="10" ry="7" fill="#151515" transform="rotate(-20 1223.6 1186)"/>
<ellipse cx="1231" cy="1083" rx="20" ry="11" fill="none" stroke="#cfcfcf" stroke-width="3" stroke-dasharray="22 8 30 10" transform="rotate(-50 1231 1083)"/>
<circle cx="1224.5" cy="1073.5" r="6" fill="#151515"/><circle cx="1236" cy="1084.5" r="4.5" fill="#151515"/>
<line x1="1192.2" y1="1145" x2="1192.7" y2="1174" stroke="#151515" stroke-width="1.6"/><rect x="1184.6" y="1162" width="17.2" height="6.7" rx="1" fill="#151515"/>
</g><circle cx="1149" cy="1135" r="183" fill="none" stroke="#151515" stroke-width="2.6"/>
<circle cx="1190.4" cy="1158.8" r="30" fill="none" stroke="#de6530" stroke-width="2.3"/>
<text x="310" y="1372" font-size="30" font-weight="normal" text-anchor="middle" fill="#d6642e">Hook Inside</text>
<text x="733" y="1372" font-size="30" font-weight="normal" text-anchor="middle" fill="#d6642e">Zipper with Double Sliders</text>
<text x="1165.5" y="1372" font-size="30" font-weight="normal" text-anchor="middle" fill="#d6642e">Tighten the Shut</text>
</svg></body></html>
